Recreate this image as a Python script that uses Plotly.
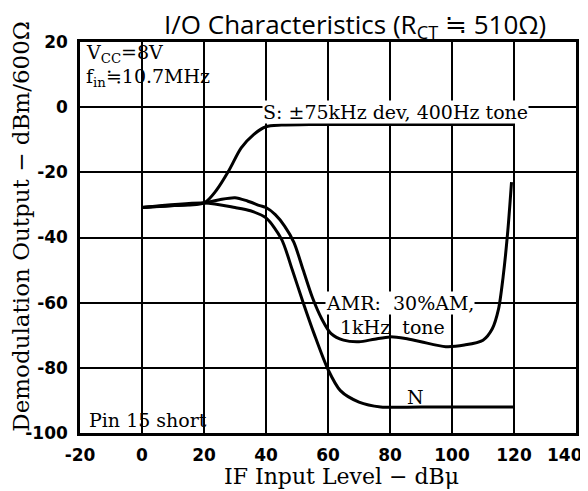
import plotly.graph_objects as go

# IF input level (dBu) and demodulation output (dBm/600 ohm)
s_x = [0, 10, 20, 24, 28, 32, 36, 40, 45, 55, 80, 120]
s_y = [-30.8, -30.2, -29.4, -25.5, -19.5, -12.5, -8.4, -6.0, -5.5, -5.3, -5.3, -5.3]

amr_x = [0, 20, 25, 30, 34, 38, 40, 43, 46, 49, 52, 55, 58, 61, 65, 70, 75, 80, 85, 90,
         98, 104, 110, 113, 115, 116.5, 118, 119.2]
amr_y = [-30.8, -29.4, -28.4, -27.8, -28.8, -30.2, -30.8, -33, -36.5, -41.5, -50, -58.5,
         -65, -69.5, -71.5, -72, -71.2, -70.5, -71, -72, -73.5, -73, -71.5, -68, -62, -52,
         -38, -23]

n_x = [0, 20, 30, 35, 40, 45, 48.5, 52, 55.5, 60, 64, 70, 77, 90, 120]
n_y = [-30.8, -29.4, -30.8, -31.8, -34, -40.5, -50, -60, -69.5, -80.5, -87, -90.5, -92,
       -92, -92]

x_ticks = [-20, 0, 20, 40, 60, 80, 100, 120, 140]
# last label is drawn separately (nudged left so it stays on the page)
x_text = ["-20", "0", "20", "40", "60", "80", "100", "120", ""]
y_ticks = [-100, -80, -60, -40, -20, 0, 20]
y_text = ["-100", "-80", "-60", "-40", "-20", "0", "20"]

serif = "DejaVu Serif"
tickfont = dict(family="DejaVu Sans", size=17, color="black", weight="bold")

fig = go.Figure()
for xs, ys in [(s_x, s_y), (amr_x, amr_y), (n_x, n_y)]:
    fig.add_trace(go.Scatter(x=xs, y=ys, mode="lines",
                             line=dict(color="black", width=3, shape="spline", smoothing=0.8),
                             showlegend=False, hoverinfo="skip"))

notes = [
    ("V<sub>CC</sub>=8V", -18.4, 16.6, "left", False),
    ("f<sub>in</sub>≒10.7MHz", -18.4, 9.0, "left", False),
    ("S: ±75kHz dev, 400Hz tone", 38.8, -1.5, "left", True),
    ("AMR:  30%AM,", 83.3, -60.2, "center", True),
    ("1kHz  tone", 80.7, -67.4, "center", False),
    ("N", 88.2, -88.9, "center", False),
    ("Pin 15 short", -17.4, -96, "left", False),
]
for txt, x, y, anc, bg in notes:
    fig.add_annotation(x=x, y=y, text=txt, showarrow=False, xanchor=anc, yanchor="middle",
                       font=dict(family=serif, size=19, color="black"),
                       bgcolor="white" if bg else None, borderpad=0)

fig.add_annotation(xref="paper", yref="paper", x=0.978, y=-0.056, text=str(x_ticks[-1]),
                   showarrow=False, xanchor="center", yanchor="middle", font=tickfont)

# title and axis titles
fig.add_annotation(xref="paper", yref="paper", x=0.554, y=1.044,
                   text="I/O Characteristics (R<sub>CT</sub> ≒ 510Ω)", showarrow=False,
                   xanchor="center", yanchor="middle",
                   font=dict(family="Open Sans", size=26, color="black"))
fig.add_annotation(xref="paper", yref="paper", x=0.528, y=-0.110,
                   text="IF Input Level − dBμ", showarrow=False,
                   xanchor="center", yanchor="middle",
                   font=dict(family=serif, size=22, color="black"))
fig.add_annotation(xref="paper", yref="paper", x=-0.119, y=0.53,
                   text="Demodulation Output − dBm/600Ω", showarrow=False, textangle=-90,
                   xanchor="center", yanchor="middle",
                   font=dict(family=serif, size=23, color="black"))

axis = dict(showgrid=True, gridcolor="black", gridwidth=1.8, zeroline=False,
            showline=True, linecolor="black", linewidth=2.5, mirror=True, automargin=False,
            tickfont=tickfont)

# the page body adds 8px on the left and top, so the figure is 8px smaller
fig.update_layout(
    width=580, height=483,
    margin=dict(l=72, r=12, t=34, b=58),
    plot_bgcolor="white", paper_bgcolor="white",
    xaxis=dict(range=[-20, 140], tickvals=x_ticks, ticktext=x_text, ticklabelstandoff=5,
               **axis),
    yaxis=dict(range=[-100, 20], tickvals=y_ticks, ticktext=y_text, ticklabelstandoff=6,
               **axis),
)

fig.write_html("out.html")
